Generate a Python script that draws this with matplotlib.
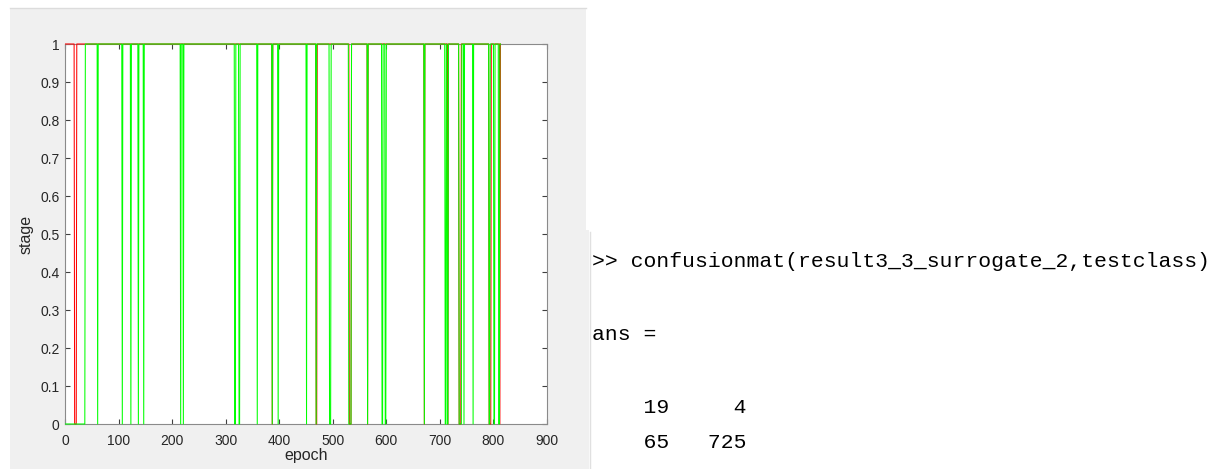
import numpy as np
import matplotlib.pyplot as plt
from matplotlib.patches import Rectangle
from matplotlib.lines import Line2D

n_epochs = 813
# runs of epochs (first, last) where each label sequence is 0, everything else is 1
result_zero_runs = [(18, 21), (387, 387), (469, 470), (531, 534), (565, 565),
                    (671, 671), (715, 715), (736, 739), (792, 795), (812, 812)]
testclass_zero_runs = [(1, 37), (61, 61), (107, 107), (123, 123), (137, 137), (147, 147),
                       (216, 216), (221, 221), (317, 318), (325, 326), (359, 359),
                       (387, 387), (398, 398), (451, 451), (469, 469), (494, 496),
                       (530, 534), (565, 565), (592, 593), (598, 599), (671, 671),
                       (710, 711), (714, 715), (736, 740), (745, 745), (762, 762),
                       (792, 793), (801, 802), (810, 811)]
x_ticks = [0, 100, 200, 300, 400, 500, 600, 700, 800, 900]
y_ticks = [0, 0.1, 0.2, 0.3, 0.4, 0.5, 0.6, 0.7, 0.8, 0.9, 1]
command = 'confusionmat(result3_3_surrogate_2,testclass)'


def labels_from_runs(runs):
    y = np.ones(n_epochs)
    for a, b in runs:
        y[a - 1:b] = 0
    return y


epoch = np.arange(1, n_epochs + 1)
result = labels_from_runs(result_zero_runs)
testclass = labels_from_runs(testclass_zero_runs)

# confusion matrix: rows = result, columns = testclass
cm = np.array([[np.sum((result == i) & (testclass == j)) for j in (0, 1)] for i in (0, 1)])

W, H = 1224, 469
fig = plt.figure(figsize=(W / 100, H / 100), dpi=100)
fig.patch.set_facecolor('white')

# grey figure window behind the axes
fig.patches.append(Rectangle((10 / W, 0), 576 / W, (H - 8) / H, transform=fig.transFigure,
                             facecolor='#f0f0f0', edgecolor='none', zorder=-2))
fig.patches.append(Rectangle((586 / W, 0), 3 / W, (H - 230) / H, transform=fig.transFigure,
                             facecolor='#f0f0f0', edgecolor='none', zorder=-2))
fig.lines.append(Line2D([10 / W, 586 / W], [1 - 8 / H, 1 - 8 / H], transform=fig.transFigure,
                        color='#dcdcdc', lw=1))
fig.lines.append(Line2D([590 / W, 590 / W], [0, 1 - 232 / H], transform=fig.transFigure,
                        color='#e0e0e0', lw=1))

ax = fig.add_axes([65 / W, 1 - 424 / H, 482 / W, 380 / H])
ax.set_facecolor('white')
ax.plot(epoch, result, color=(1, 0, 0), lw=0.75, clip_on=False, zorder=3)
ax.plot(epoch, testclass, color=(0, 1, 0), lw=0.75, clip_on=False, zorder=3)

ax.set_xlim(0, 900)
ax.set_ylim(0, 1)
ax.set_xticks(x_ticks)
ax.set_xticklabels([str(t) for t in x_ticks])
ax.set_yticks(y_ticks)
ax.set_yticklabels(['%g' % t for t in y_ticks])
for s in ax.spines.values():
    s.set_color('#8a8a8a')
    s.set_linewidth(0.8)
ax.tick_params(direction='in', top=True, right=True, length=3.5, width=0.8,
               color='#404040', labelcolor='#262626', labelsize=10,
               labelfontfamily='Liberation Sans')
ax.tick_params(axis='x', pad=7)
ax.tick_params(axis='y', pad=4)
ax.set_xlabel('epoch', fontsize=11.5, fontfamily='Liberation Sans', color='#262626', labelpad=0)
ax.set_ylabel('stage', fontsize=11.5, fontfamily='Liberation Sans', color='#262626', labelpad=5)

# command window output
mono = dict(fontfamily='Liberation Mono', fontsize=15.4, color='#000000', ha='left', va='baseline')
fig.text(592 / W, 1 - 267 / H, '>> ' + command, **mono)
fig.text(592 / W, 1 - 340 / H, 'ans =', **mono)
for i, row in enumerate(cm):
    fig.text(592 / W, 1 - (413 + 35 * i) / H, ''.join('%6d' % v for v in row), **mono)

fig.savefig('out.png', dpi=100)
